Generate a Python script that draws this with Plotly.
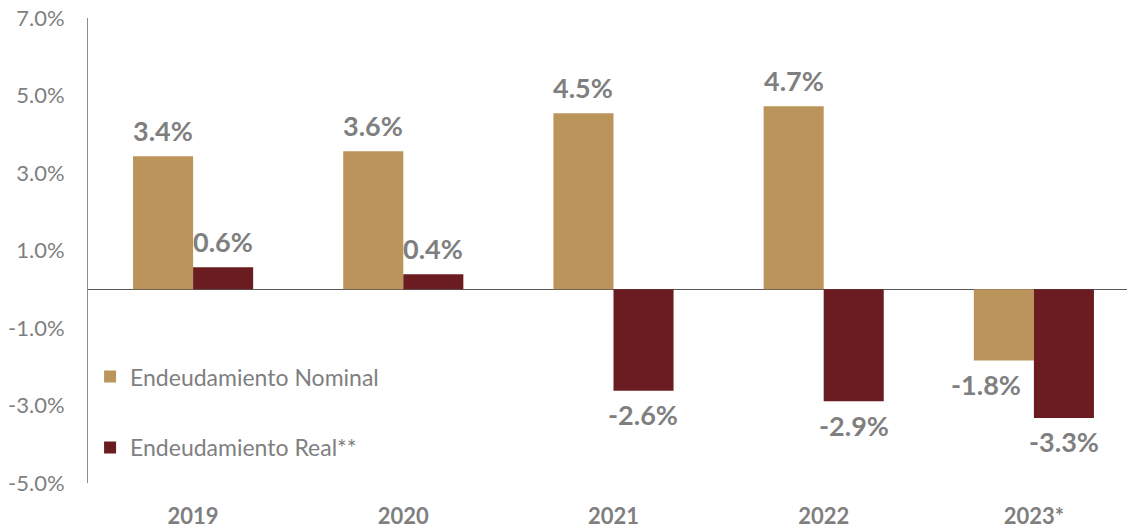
import plotly.graph_objects as go

years = ["2019", "2020", "2021", "2022", "2023*"]
nominal = [3.43, 3.56, 4.54, 4.72, -1.84]
real = [0.57, 0.39, -2.62, -2.89, -3.32]
tick_vals = [-5, -3, -1, 1, 3, 5, 7]
tick_text = ["-5.0%", "-3.0%", "-1.0%", "1.0%", "3.0%", "5.0%", "7.0%"]

FONT = "Lato"
GRAY = "#7f7f7f"

fig = go.Figure()
fig.add_trace(go.Bar(
    x=years, y=nominal, name="Endeudamiento Nominal",
    marker=dict(color="#bb945b", line=dict(width=0)),
    legendgroup="a",
))
fig.add_trace(go.Bar(
    x=years, y=real, name="Endeudamiento Real**",
    marker=dict(color="#6a1c21", line=dict(width=0)),
    legendgroup="b",
))

# value labels (category index positions on the category axis)
for series, shift in ((nominal, -30), (real, 30)):
    for i, v in enumerate(series):
        xs = shift
        if shift < 0 and v < 0:
            xs = shift - 18  # keep label clear of neighbouring bar
        fig.add_annotation(
            x=i, y=v, xref="x", yref="y",
            text=f"{v:.1f}%", showarrow=False,
            xshift=xs, yshift=26 if v >= 0 else -24,
            xanchor="center", yanchor="middle",
            font=dict(family=FONT, size=27, color=GRAY, weight="bold"),
        )

fig.update_layout(
    width=1127, height=529,
    margin=dict(l=88, r=0, t=18, b=46),
    plot_bgcolor="white", paper_bgcolor="white",
    barmode="group", bargap=0.4286, bargroupgap=0,
    font=dict(family=FONT, color=GRAY),
    showlegend=True,
    legend=dict(x=0.002, y=0.275, xanchor="left", yanchor="top",
                font=dict(family=FONT, size=23, color=GRAY),
                tracegroupgap=38, bgcolor="rgba(0,0,0,0)",
                itemwidth=30),
    xaxis=dict(type="category", range=[-0.5, 4.443], showline=False, showgrid=False,
               ticks="", automargin=False,
               tickfont=dict(family=FONT, size=22, color=GRAY, weight="bold"),
               ticklabelstandoff=18),
    yaxis=dict(range=[-5, 7], tickvals=tick_vals, ticktext=tick_text,
               showgrid=False, showline=True, linecolor="#8c8c8c", linewidth=1,
               zeroline=True, zerolinecolor="#595959", zerolinewidth=1,
               automargin=False, ticklabeloverflow="allow",
               tickfont=dict(family=FONT, size=22, color=GRAY), ticks="",
               ticklabelstandoff=18),
)

fig.write_html(
    "out.html",
    config={"displayModeBar": False},
    post_script="document.body.style.margin='0';document.body.style.overflow='hidden';",
)
